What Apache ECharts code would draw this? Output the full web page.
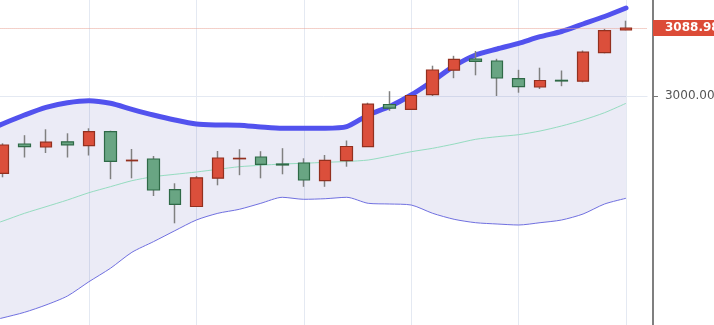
<!DOCTYPE html>
<html>
<head>
<meta charset="utf-8">
<script src="https://cdn.jsdelivr.net/npm/echarts@6/dist/echarts.min.js"></script>
<style>
html,body{margin:0;padding:0;background:#fff;}
#c{width:714px;height:325px;}
</style>
</head>
<body>
<div id="c"></div>
<script>
// categories: one off-screen session on the left, 30 visible sessions, one empty slot on the right
const categories = ['p0','d1','d2','d3','d4','d5','d6','d7','d8','d9','d10','d11','d12','d13','d14','d15','d16','d17','d18','d19','d20','d21','d22','d23','d24','d25','d26','d27','d28','d29','d30','n1'];

const openV  = [2898.85, 2937.19, 2933.26, 2940.07, 2934.97, 2953.29, 2915.21, 2917.56, 2877.39, 2855.41, 2892.44, 2917.82, 2920.18, 2911.02, 2912.33, 2889.17, 2915.34, 2933.66, 2988.88, 2982.60, 3001.70, 3033.76, 3048.42, 3045.80, 3022.64, 3011.78, 3020.54, 3019.37, 3056.66, 3086.36];
const closeV = [2935.88, 2933.66, 2939.55, 2936.14, 2953.29, 2914.55, 2915.99, 2877.00, 2858.29, 2892.96, 2918.87, 2918.48, 2910.63, 2909.71, 2890.08, 2915.86, 2933.92, 2989.27, 2984.04, 3000.65, 3034.02, 3048.02, 3045.41, 3023.55, 3012.17, 3020.28, 3019.63, 3057.31, 3085.45, 3088.98];
const lowV   = [2893.62, 2919.53, 2925.41, 2919.53, 2922.14, 2891.13, 2892.31, 2869.15, 2833.42, 2855.41, 2883.15, 2896.36, 2892.31, 2897.54, 2881.19, 2881.19, 2907.49, 2933.26, 2980.63, 2982.33, 3000.00, 3023.29, 3027.09, 3000.00, 3004.32, 3009.16, 3012.82, 3017.93, 3055.87, 3086.00];
const highV  = [2938.11, 2948.71, 2956.43, 2951.19, 2957.73, 2954.59, 2930.65, 2921.49, 2885.77, 2895.32, 2928.03, 2930.39, 2927.77, 2931.69, 2918.48, 2922.80, 2941.77, 2991.23, 3006.28, 3001.05, 3039.65, 3052.60, 3058.88, 3048.68, 3034.28, 3037.03, 3033.37, 3059.54, 3087.93, 3098.53];

const upperBand  = [2963.75, 2975.14, 2985.21, 2991.23, 2993.85, 2990.45, 2982.60, 2975.14, 2968.60, 2963.36, 2962.05, 2961.66, 2959.44, 2957.73, 2957.73, 2957.73, 2959.83, 2975.14, 2986.26, 3001.31, 3019.63, 3039.26, 3053.65, 3061.50, 3068.96, 3077.60, 3084.40, 3094.21, 3104.03, 3115.15];
const middleBand = [2836.43, 2846.51, 2855.15, 2863.91, 2873.47, 2881.32, 2889.17, 2894.40, 2897.54, 2900.55, 2904.08, 2907.49, 2909.32, 2911.02, 2911.94, 2913.24, 2914.29, 2916.25, 2921.49, 2927.11, 2931.56, 2937.19, 2943.34, 2946.74, 2949.36, 2954.20, 2960.74, 2968.60, 2978.15, 2990.45];
const lowerBand  = [2709.77, 2716.96, 2726.52, 2738.29, 2757.00, 2774.54, 2795.48, 2809.35, 2823.74, 2837.74, 2846.51, 2851.74, 2859.59, 2867.45, 2864.83, 2865.61, 2867.45, 2859.59, 2858.68, 2857.37, 2846.51, 2838.66, 2834.21, 2832.51, 2831.20, 2834.21, 2837.74, 2845.59, 2858.68, 2866.14];

// band values of the session just left of the visible area
const upperLead = 2951.6;
const middleLead = 2827.27;
const lowerLead = 2702.96;

const yTicks = [2400, 3000];

const lastPrice = closeV[closeV.length - 1];

const withPad = (lead, arr) => [lead].concat(arr).concat([null]);
const upperData = withPad(upperLead, upperBand);
const middleData = withPad(middleLead, middleBand);
const lowerData = withPad(lowerLead, lowerBand);
const diffData = upperData.map((u, i) => (u == null || lowerData[i] == null) ? null : +(u - lowerData[i]).toFixed(2));

const bodyData = ['-'].concat(openV.map((o, i) => {
  const c = closeV[i];
  return [o, c, Math.min(o, c), Math.max(o, c)];
})).concat(['-']);
const wickData = ['-'].concat(openV.map((o, i) => [o, o, lowV[i], highV[i]])).concat(['-']);

const SM = 0.25;
const chart = echarts.init(document.getElementById('c'), null, {renderer: 'canvas'});
const gray = '#808080';
chart.setOption({
  animation: false,
  backgroundColor: '#ffffff',
  grid: {left: -18.48, top: -2, width: 665.97, height: 556.53, outerBoundsMode: 'none', containLabel: false},
  xAxis: {
    type: 'category',
    data: categories,
    boundaryGap: false,
    axisLine: {show: false},
    axisTick: {show: false},
    axisLabel: {show: false},
    splitLine: {
      show: true,
      interval: (idx) => idx > 0 && idx % 5 === 0,
      lineStyle: {color: '#e4e9f2', width: 1}
    }
  },
  yAxis: {
    type: 'value',
    position: 'right',
    offset: 5.5,
    min: yTicks[0],
    max: 3128.24,
    interval: yTicks[1] - yTicks[0],
    axisLine: {show: true, lineStyle: {color: '#555', width: 1.5}},
    axisTick: {show: true, length: 5, lineStyle: {color: '#777'}},
    axisLabel: {
      show: true, margin: 12, color: '#555', fontSize: 12, fontFamily: 'DejaVu Sans',
      showMaxLabel: false,
      formatter: (v) => v.toFixed(2)
    },
    splitLine: {show: true, showMaxLine: false, lineStyle: {color: '#e4e9f2', width: 1}}
  },
  series: [
    {
      name: 'bandBase', type: 'line', data: lowerData, stack: 'bb', smooth: SM,
      symbol: 'none', lineStyle: {opacity: 0}, silent: true, z: 1
    },
    {
      name: 'bandFill', type: 'line', data: diffData, stack: 'bb', smooth: SM,
      symbol: 'none', lineStyle: {opacity: 0},
      areaStyle: {color: 'rgba(70,70,170,0.15)'}, silent: true, z: 1
    },
    {
      name: 'lower', type: 'line', data: lowerData, symbol: 'none', smooth: SM,
      lineStyle: {color: '#7070e0', width: 1}, silent: true, z: 2
    },
    {
      name: 'middle', type: 'line', data: middleData, symbol: 'none', smooth: SM,
      lineStyle: {color: '#95dcc0', width: 1}, silent: true, z: 2
    },
    {
      name: 'upper', type: 'line', data: upperData, symbol: 'none', smooth: SM,
      lineStyle: {color: '#5252ee', width: 5, join: 'round', cap: 'round'}, silent: true, z: 3
    },
    {
      name: 'wick', type: 'candlestick', data: wickData, barWidth: 1, z: 4,
      itemStyle: {color: gray, color0: gray, borderColor: gray, borderColor0: gray, borderColorDoji: gray, borderWidth: 1.5}
    },
    {
      name: 'body', type: 'candlestick', data: bodyData, barWidth: 12, z: 5,
      itemStyle: {
        color: '#db4f3b', color0: '#69a583',
        borderColor: '#93301f', borderColor0: '#2f6a47', borderColorDoji: '#93301f',
        borderWidth: 1.2
      },
      markLine: {
        silent: true,
        symbol: ['none', 'none'],
        animation: false,
        data: [{yAxis: lastPrice}],
        lineStyle: {color: '#e8a294', type: 'dotted', width: 1},
        label: {
          show: true, position: 'end', distance: 5.5,
          formatter: (p) => p.value.toFixed(2),
          backgroundColor: '#dc4b37', color: '#ffffff',
          fontWeight: 'bold', fontSize: 12, fontFamily: 'DejaVu Sans',
          padding: [2, 4, 2, 12]
        }
      }
    }
  ]
});
</script>
</body>
</html>
